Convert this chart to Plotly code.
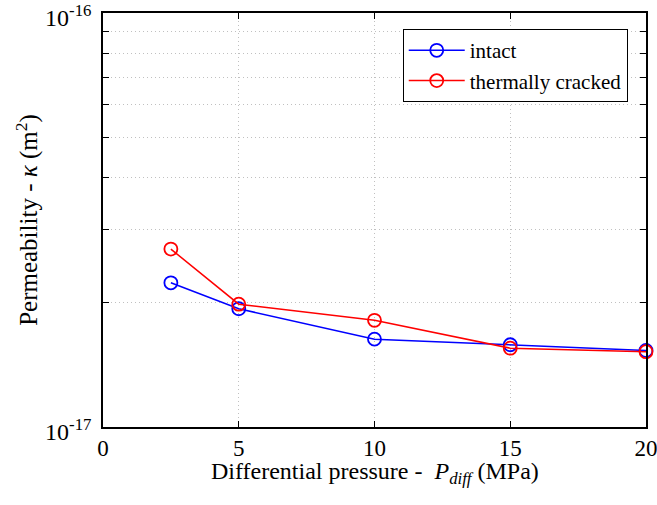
import plotly.graph_objects as go

pressure = [2.5, 5, 10, 15, 20]
intact = [2.23e-17, 1.93e-17, 1.63e-17, 1.58e-17, 1.53e-17]
cracked = [2.69e-17, 1.98e-17, 1.81e-17, 1.55e-17, 1.52e-17]
series_names = ["intact", "thermally cracked"]
x_ticks = [0, 5, 10, 15, 20]
y_major = [1e-17, 1e-16]
y_major_text = ["10<sup>-17</sup>", "10<sup>-16</sup>"]
y_minor = [k * 1e-17 for k in range(2, 10)]
x_title = "Differential pressure -  <i>P<sub>diff</sub></i> (MPa)"
y_title = "Permeability - <i>κ</i> (m<sup>2</sup>)"

FONT = "Liberation Serif, Times New Roman, serif"
GRID = "#c0c0c0"
DOT = "1px,3px"

fig = go.Figure()
for name, vals, col in [(series_names[0], intact, "#0000ff"), (series_names[1], cracked, "#ff0000")]:
    fig.add_trace(go.Scatter(
        x=pressure, y=vals, name=name, mode="lines+markers",
        line=dict(color=col, width=1.5),
        marker=dict(symbol="circle-open", size=13, color=col, line=dict(width=1.8, color=col)),
        cliponaxis=False,
    ))

fig.update_layout(
    width=657, height=505,
    margin=dict(l=103, r=11, t=13, b=78),
    paper_bgcolor="white", plot_bgcolor="white",
    font=dict(family=FONT, size=23, color="black"),
    showlegend=True,
    legend=dict(
        x=0.552, y=0.961, xanchor="left", yanchor="top",
        bordercolor="black", borderwidth=1, bgcolor="white",
        font=dict(family=FONT, size=21),
        tracegroupgap=0, itemwidth=56,
    ),
    annotations=[dict(
        text=x_title, xref="paper", yref="paper", x=0.5, y=0,
        xanchor="center", yanchor="middle", yshift=-46, showarrow=False,
        font=dict(family=FONT, size=24, color="black"),
    )],
)

fig.update_xaxes(
    range=[0, 20], tickvals=x_ticks, ticktext=[str(v) for v in x_ticks],
    showline=True, linecolor="black", linewidth=1.5, mirror="ticks",
    ticks="inside", ticklen=6, tickcolor="black",
    showgrid=True, gridcolor=GRID, griddash=DOT, gridwidth=1,
    zeroline=False, automargin=False, ticklabeloverflow="allow",
    tickfont=dict(family=FONT, size=23),
)

fig.update_yaxes(
    type="log", range=[-17.0001, -15.9999],
    tickvals=y_major, ticktext=y_major_text,
    showline=True, linecolor="black", linewidth=1.5, mirror="ticks",
    ticks="inside", ticklen=6, tickcolor="black",
    showgrid=False, zeroline=False, automargin=False, ticklabeloverflow="allow",
    ticklabelshift=5, ticklabelstandoff=5,
    tickfont=dict(family=FONT, size=24),
    minor=dict(tickvals=y_minor, ticks="inside", ticklen=6, tickcolor="black",
               showgrid=True, gridcolor=GRID, griddash=DOT, gridwidth=1),
    title=dict(text=y_title, font=dict(family=FONT, size=25), standoff=0),
)

fig.write_html("out.html", config={"displayModeBar": False},
               post_script="document.body.style.margin='0';")
